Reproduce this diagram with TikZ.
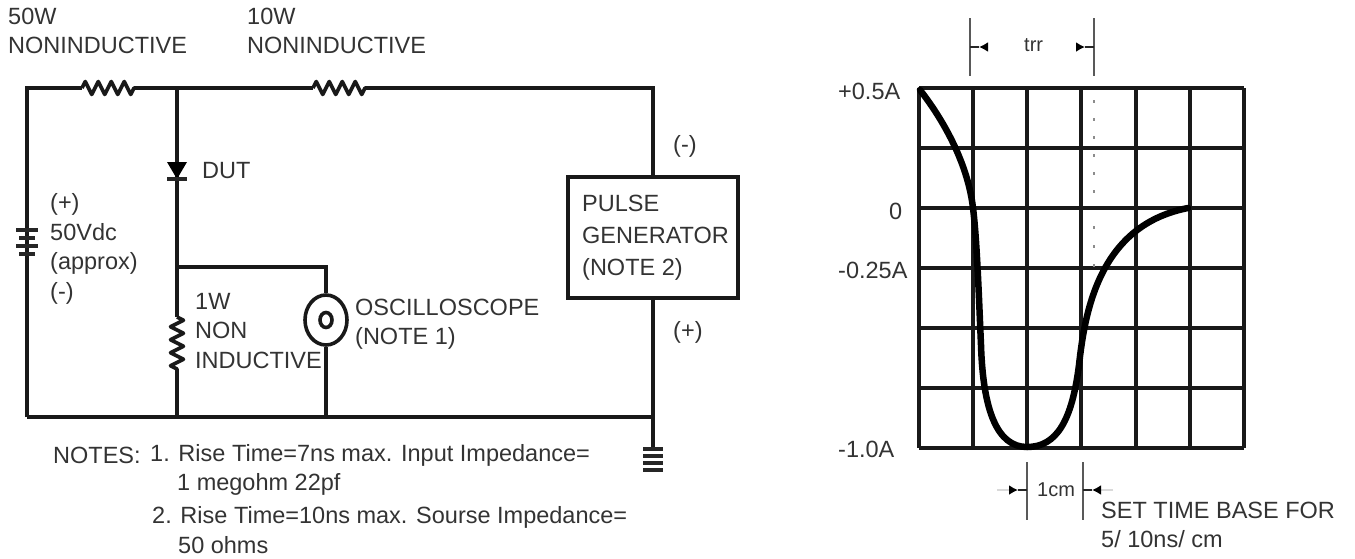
\documentclass[tikz,border=0pt]{standalone}
\usepackage{fontspec}
\setmainfont{Liberation Sans}
\usetikzlibrary{arrows.meta,shapes.geometric,decorations.pathmorphing}
\tikzset{
  wire/.style={line width=3.6pt,black!90},
  res/.style={wire,line join=round,decorate,decoration={zigzag,amplitude=6.5pt,segment length=13pt}},
  plate/.style={line width=4pt,black!85},
  gridline/.style={line width=3.4pt,black!90},
  trace/.style={line width=6.5pt,black,line cap=round},
  dim/.style={line width=1.8pt,black!65},
  stem/.style={line width=2pt,black!85},
  dimarrow/.style={line width=2pt,black,-{Latex[length=9pt,width=10pt]}},
  faint/.style={line width=2pt,black!15},
  lab/.style={anchor=west,inner sep=0pt,align=left,text=black!80,font=\fontsize{23.5}{29.5}\selectfont},
}
\begin{document}
\begin{tikzpicture}[x=1pt,y=-1pt]
\useasboundingbox (0,0) rectangle (1355,558);
\coordinate (tl) at (27,88);
\coordinate (bl) at (27,417);
\coordinate (ra) at (82,88);
\coordinate (rb) at (136,88);
\coordinate (rc) at (313,88);
\coordinate (rd) at (367,88);
\coordinate (top) at (177,88);
\coordinate (tr) at (653,88);
\coordinate (dut) at (177,171);
\coordinate (tap) at (177,267);
\coordinate (corner) at (326,267);
\coordinate (re) at (177,317);
\coordinate (rf) at (177,375);
\coordinate (bot) at (177,417);
\coordinate (botscope) at (326,417);
\coordinate (br) at (653,417);
\coordinate (gnd) at (653,449);
\node[draw,line width=3.6pt,black!90,minimum width=170pt,minimum height=121pt,inner sep=0pt] (pulse) at (653,237.5) {};
\node[draw,line width=3.6pt,black!90,ellipse,minimum width=42pt,minimum height=50pt,inner sep=0pt] (scope) at (326,320) {};
\node[draw,line width=3.6pt,black!90,ellipse,minimum width=12pt,minimum height=15pt,inner sep=0pt] (scopein) at (326,320) {};
\draw[wire] (bl) -- (tl) -- (ra);
\draw[res] (ra) -- (rb);
\draw[wire] (rb) -- (rc);
\draw[res] (rc) -- (rd);
\draw[wire] (rd) -- (tr) -- (pulse.north);
\draw[wire] (top) -- (re);
\draw[res] (re) -- (rf);
\draw[wire] (rf) -- (bot);
\draw[wire] (tap) -- (corner) -- (scope.north);
\draw[wire] (scope.south) -- (botscope);
\draw[wire] (bl) -- (br);
\draw[wire] (pulse.south) -- (br) -- (gnd);
\fill[black] (dut) ++(-10,-9) -- ++(20,0) -- ++(-10,17) -- cycle;
\draw[plate] (dut) ++(-10,8) -- ++(20,0);
\foreach \y/\w in {230/11,238/8,246/11,254/8}
  \draw[plate] (27-\w,\y) -- (27+\w,\y);
\foreach \y in {449,456,463,470}
  \draw[plate,line width=3.6pt] (653-10,\y) -- (653+10,\y);
\node[lab] (w50) at (8,31) {50W\\NONINDUCTIVE};
\node[lab] (w10) at (247,31) {10W\\NONINDUCTIVE};
\node[lab] (dutlab) at (202,171) {DUT};
\node[lab] (batt) at (50,249) {(+)\\50Vdc\\(approx)\\(-)};
\node[lab] (w1) at (195,331) {1W\\NON\\INDUCTIVE};
\node[lab] (scopelab) at (355,324) {OSCILLOSCOPE\\(NOTE 1)};
\node[lab,font=\fontsize{23.5}{32}\selectfont] (pulselab) at (582,238) {PULSE\\GENERATOR\\(NOTE 2)};
\node[lab] (minus) at (673,146) {(-)};
\node[lab] (plus) at (673,332) {(+)};
\node[lab] (notes) at (53,455) {NOTES:};
\node[lab] (one) at (150,470) {1. Rise Time=7ns max. Input Impedance=\\\hspace*{27pt}1 megohm 22pf};
\node[lab] (two) at (152,530) {2. Rise Time=10ns max. Sourse Impedance=\\\hspace*{26pt}50 ohms};
\foreach \x in {919,973,1027,1081,1136,1190,1244}
  \draw[gridline] (\x,88) -- (\x,448);
\foreach \y in {88,148,208,268,328,388,448}
  \draw[gridline] (919,\y) -- (1244,\y);
\draw[trace] (920,90) .. controls (945,122) and (968,165) .. (973,208) .. controls (977,240) and (979,300) .. (981,345) .. controls (983,410) and (997,447) .. (1027,447) .. controls (1057,447) and (1072,420) .. (1079,365) .. controls (1085,310) and (1100,225) .. (1188,208);
\draw[black!45,line width=2.5pt,dash pattern=on 2.5pt off 15.5pt] (1094,100) -- (1094,195);
\draw[black!45,line width=2.5pt,dash pattern=on 2.5pt off 16.5pt] (1094,226) -- (1094,270);
\coordinate (ta) at (970,18);
\coordinate (tb) at (970,76);
\coordinate (tc) at (1094,18);
\coordinate (td) at (1094,76);
\coordinate (tm) at (970,47);
\coordinate (tn) at (1094,47);
\coordinate (tq) at (979,47);
\coordinate (tr2) at (1085,47);
\coordinate (to) at (988,47);
\coordinate (tp) at (1076,47);
\draw[dim] (ta) -- (tb);
\draw[dim] (tc) -- (td);
\draw[stem] (tm) -- (tq);
\draw[stem] (tn) -- (tr2);
\draw[dimarrow] (to) -- (tq);
\draw[dimarrow] (tp) -- (tr2);
\node[lab,font=\fontsize{20}{24}\selectfont] (trr) at (1024,45) {trr};
\coordinate (ca) at (1027,462);
\coordinate (cb) at (1027,520);
\coordinate (cc) at (1083,462);
\coordinate (cd) at (1083,520);
\coordinate (cm) at (1027,490);
\coordinate (cn) at (1083,490);
\coordinate (cq) at (1018,490);
\coordinate (cr) at (1092,490);
\coordinate (co) at (1009,490);
\coordinate (cp) at (1101,490);
\coordinate (cs) at (997,490);
\coordinate (ct) at (1113,490);
\draw[faint] (cs) -- (co);
\draw[faint] (ct) -- (cp);
\draw[dim] (ca) -- (cb);
\draw[dim] (cc) -- (cd);
\draw[stem] (cm) -- (cq);
\draw[stem] (cn) -- (cr);
\draw[dimarrow] (co) -- (cq);
\draw[dimarrow] (cp) -- (cr);
\node[lab,font=\fontsize{20}{24}\selectfont] (cm1) at (1037,490) {1cm};
\node[lab] (pA) at (838,91) {+0.5A};
\node[lab] (zero) at (889,211) {0};
\node[lab] (qA) at (838,270) {-0.25A};
\node[lab] (oneA) at (838,449) {-1.0A};
\node[lab] (base) at (1101,525) {SET TIME BASE FOR\\5/ 10ns/ cm};
\end{tikzpicture}
\end{document}
